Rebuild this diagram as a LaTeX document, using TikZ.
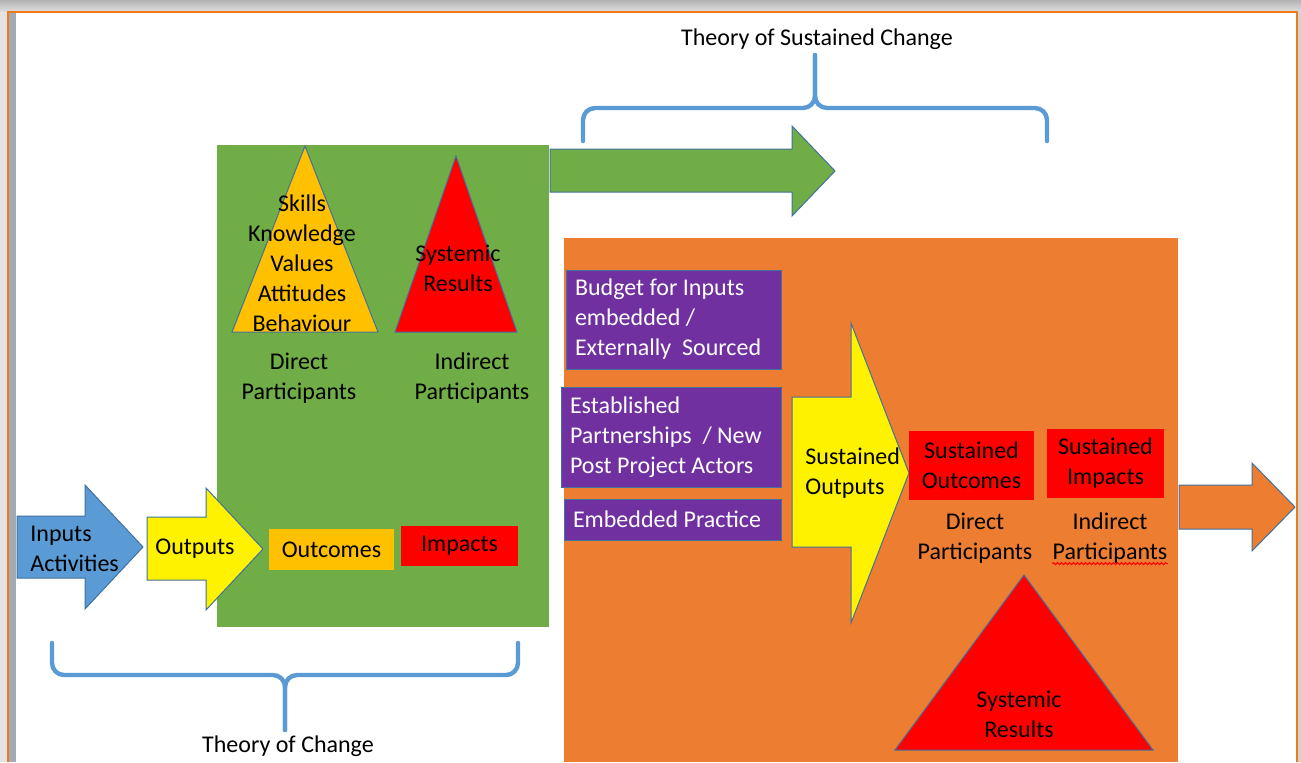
\documentclass[tikz,border=0pt]{standalone}
\usepackage{fontspec}
\setmainfont{Carlito}
\usetikzlibrary{decorations.pathmorphing}

\definecolor{leafgreen}{HTML}{70AD47}
\definecolor{sunorange}{HTML}{ED7D31}
\definecolor{skyblue}{HTML}{5B9BD5}
\definecolor{edgeblue}{HTML}{41719C}
\definecolor{deeppurple}{HTML}{7030A0}
\definecolor{gold}{HTML}{FFC000}
\definecolor{framegrey}{HTML}{A3AAB2}
\definecolor{frameorange}{HTML}{EE7A1C}

% flat block arrow: style, shaft left, shaft top, shaft bottom, head base, head top, head bottom, tip
\newcommand{\blockarrow}[8]{%
	\draw[#1] (#2,#3) -- (#5,#3) -- (#5,#6) -- (#8,{(#6+#7)/2}) -- (#5,#7) -- (#5,#4) -- (#2,#4) -- cycle;
}

\begin{document}
\begin{tikzpicture}[x=0.5pt,y=-0.5pt,
	label text/.style={font=\fontsize{12}{15}\selectfont,align=center,inner sep=0pt},
	shape line/.style={draw=edgeblue,line width=0.5pt},
	brace line/.style={draw=skyblue,line width=2.2pt,rounded corners=6pt,line cap=round},
	flat box/.style={label text,minimum width=#1},
	purple box/.style={label text,fill=deeppurple,draw=edgeblue,line width=0.5pt,
		text=white,align=left,inner xsep=4.5pt,text width=#1,
		execute at begin node={\spaceskip=0pt\xspaceskip=0pt\relax}}
]

	\useasboundingbox (0,0) rectangle (1301,762);

	% page frame
	\shade[top color=gray!60,bottom color=gray!25] (0,0) rectangle (1301,12);
	\fill[gray!22] (0,12) rectangle (8,762);
	\fill[gray!35] (1297,12) rectangle (1301,762);
	\fill[white] (8,12) rectangle (1297,762);
	\fill[framegrey] (9,13) rectangle (16,762);
	\draw[frameorange,line width=1pt] (8,762) -- (8,12) -- (1297,12) -- (1297,762);

	% theory of change
	\fill[leafgreen] (217,145) rectangle (549,627);
	\blockarrow{fill=leafgreen,shape line}{550}{149}{192}{792}{126}{216}{835}

	\filldraw[fill=gold,shape line] (305,146) -- (378,332) -- (232,332) -- cycle;
	\filldraw[fill=red,shape line] (456,156) -- (517,332) -- (395,332) -- cycle;
	\node[label text] (skills) at (302,263) {Skills\\Knowledge\\Values\\Attitudes\\Behaviour};
	\node[label text] (sysres) at (458,268) {Systemic\\Results};
	\node[label text] (direct) at (299,378) {Direct\\Participants};
	\node[label text] (indirect) at (472,378) {Indirect\\Participants};

	\blockarrow{fill=skyblue,shape line}{17}{516}{578}{85}{485}{609}{143}
	\blockarrow{fill=yellow,shape line}{147}{517}{580}{206}{488}{610}{263}
	\node[label text,anchor=west,align=left] (inputs) at (30,549) {Inputs\\Activities};
	\node[label text] (outputs) at (195,549) {Outputs};
	\node[flat box=62.5pt,fill=gold,minimum height=20.5pt] (outcomes) at (331.5,549.5) {Outcomes};
	\node[flat box=58.5pt,fill=red,minimum height=20pt] (impacts) at (459.5,546) {Impacts};

	% theory of sustained change
	\fill[sunorange] (564,238) rectangle (1178,762);
	\node[purple box=98.5pt,minimum height=49.5pt] (budget) at (673.5,319.5)
		{Budget for Inputs\\embedded /\\Externally\ \ Sourced};
	\node[purple box=101pt,minimum height=50pt] (partners) at (671,437)
		{Established\\Partnerships\ \ / New\\Post Project Actors};
	\node[purple box=99.5pt,minimum height=20.5pt] (practice) at (672.5,519.5) {Embedded Practice};

	\blockarrow{fill=yellow,shape line}{792}{397}{547}{851}{323}{623}{909}
	\node[label text,anchor=west,align=left] (sustout) at (805,473) {Sustained\\Outputs};
	\node[flat box=62.5pt,fill=red,minimum height=34.5pt] (sustcome) at (971.5,465.5) {Sustained\\Outcomes};
	\node[flat box=58.5pt,fill=red,minimum height=34.5pt] (sustimp) at (1105.5,463.5) {Sustained\\Impacts};
	\node[label text] (sdirect) at (975,538) {Direct\\Participants};
	\node[label text] (sindirect) at (1110,538) {Indirect\\Participants};
	\draw[red,line width=0.5pt,decorate,decoration={snake,amplitude=0.5pt,segment length=2pt}]
		(sindirect.south west) -- (sindirect.south east);

	\filldraw[fill=red,shape line] (1024,575) -- (1153,750) -- (895,750) -- cycle;
	\node[label text] (ssysres) at (1019,714) {Systemic\\Results};

	\blockarrow{fill=sunorange,shape line}{1179}{485}{529}{1252}{463}{551}{1295}

	% braces
	\draw[brace line] (583,141) -- (583,108) -- (815,108) -- (815,55);
	\draw[brace line] (815,55) -- (815,108) -- (1047,108) -- (1047,141);
	\node[label text] (sustained) at (817,39) {Theory of Sustained Change};

	\draw[brace line] (52,643) -- (52,675) -- (285,675) -- (285,730);
	\draw[brace line] (285,730) -- (285,675) -- (518,675) -- (518,643);
	\node[label text] (change) at (288,746) {Theory of Change};

\end{tikzpicture}
\end{document}
